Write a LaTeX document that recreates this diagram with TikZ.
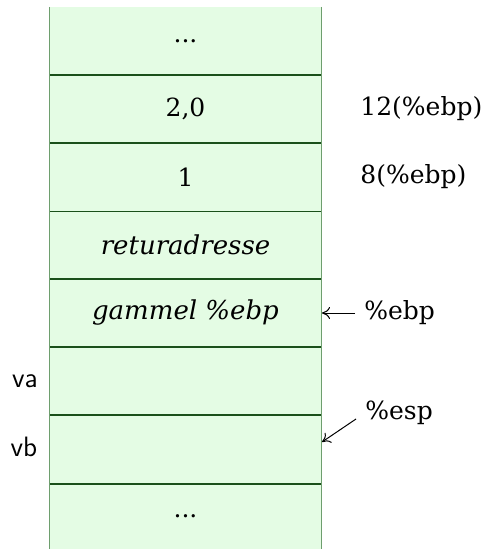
\documentclass[tikz,border=0pt]{standalone}
\usepackage{fontspec}
\setmainfont{DejaVu Serif}
\usetikzlibrary{arrows.meta}
\definecolor{cellfill}{HTML}{E4FCE4}
\definecolor{sideline}{HTML}{6E9E6E}
\definecolor{rowline}{HTML}{1A501A}
\begin{document}
\begin{tikzpicture}[x=0.5pt,y=-0.5pt,
  cell/.style={inner sep=0pt,minimum width=136pt,minimum height=34pt,
    font=\fontsize{12.5}{15}\selectfont},
  itcell/.style={cell,font=\fontsize{13}{15}\selectfont\itshape},
  offset/.style={anchor=west,inner sep=0pt,font=\fontsize{12.5}{15}\selectfont},
  varname/.style={inner sep=0pt,font=\fontsize{14}{16}\selectfont\sffamily},
  pointer/.style={-{To[length=4pt,width=6pt]},line width=0.5pt}]
\useasboundingbox (0,0) rectangle (483,549);
% stack column
\fill[cellfill] (49.5,7) rectangle (321.5,549);
\foreach \y in {75,143,211.5,279,347,415,484}
  \draw[rowline,line width=0.55pt] (49.5,\y) -- (321.5,\y);
\draw[sideline,line width=0.8pt] (49.5,7) -- (49.5,549);
\draw[sideline,line width=0.8pt] (321.5,7) -- (321.5,549);
% cell contents
\node[cell] (c1) at (185.5,41) {...};
\node[cell] (c2) at (185.5,109) {2,0};
\node[cell] (c3) at (185.5,177) {1};
\node[itcell] (c4) at (185.5,245) {returadresse};
\node[itcell] (c5) at (185.5,313) {gammel \%ebp};
\node[cell] (c6) at (185.5,381) {};
\node[cell] (c7) at (185.5,449.5) {};
\node[cell] (c8) at (185.5,516.5) {...};
% offsets relative to the frame pointer
\node[offset] (o12) at (360,109) {12(\%ebp)};
\node[offset] (o8) at (360,177) {8(\%ebp)};
% local variables
\node[varname] (va) at (25,381) {va};
\node[varname] (vb) at (24,447) {vb};
% register pointers
\node[offset] (ebp) at (364,313) {\%ebp};
\node[offset] (esp) at (365,413) {\%esp};
\coordinate (ebpend) at (322,313);
\coordinate (espend) at (322,442);
\draw[pointer] ([xshift=-4.5pt]ebp.west) -- (ebpend);
\draw[pointer] ([xshift=-4.5pt,yshift=-3pt]esp.west) -- (espend);
\end{tikzpicture}
\end{document}
